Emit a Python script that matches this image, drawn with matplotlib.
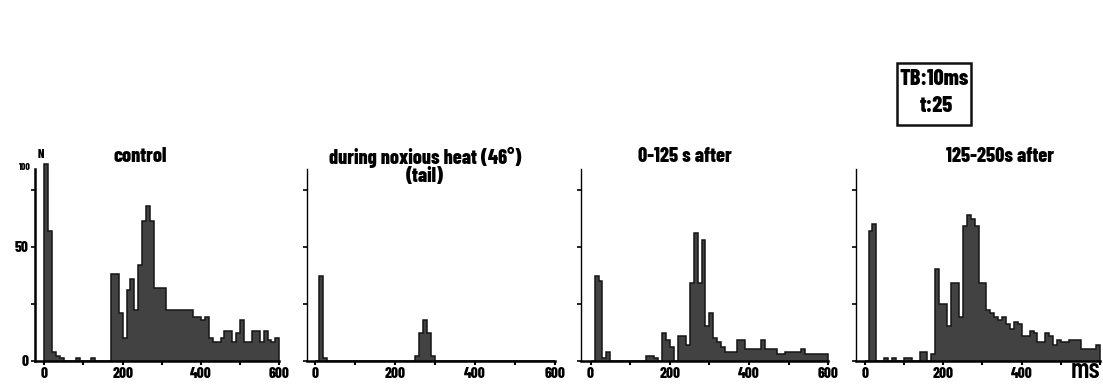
import matplotlib
matplotlib.use("Agg")
import matplotlib.pyplot as plt
from matplotlib.patches import Rectangle
from matplotlib import font_manager as fm

# ---------------- data (counts per 10 ms bin, 0-600 ms) ----------------
bin_edges = list(range(0, 610, 10))

control = [86, 57, 4, 2, 1, 0, 0, 0, 1, 0,
           0, 0, 1, 0, 0, 0, 0, 38, 38, 21,
           10, 31, 36, 22, 42, 61, 68, 61, 32, 32,
           32, 22, 22, 22, 22, 22, 22, 22, 19, 19,
           18, 19, 10, 8, 8, 10, 13, 13, 8, 12,
           18, 8, 8, 13, 13, 8, 13, 9, 8, 10]

heat = [0, 37, 1, 0, 0, 0, 0, 0, 0, 0,
        0, 0, 0, 0, 0, 0, 0, 0, 0, 0,
        0, 0, 0, 0, 0, 2, 12, 18, 12, 2,
        0, 0, 0, 0, 0, 0, 0, 0, 0, 0,
        0, 0, 0, 0, 0, 0, 0, 0, 0, 0,
        0, 0, 0, 0, 0, 0, 0, 0, 0, 0]

after_0_125 = [0, 37, 35, 1, 4, 0, 0, 0, 0, 0,
               0, 0, 0, 0, 2, 2, 1, 0, 12, 9,
               6, 0, 11, 11, 7, 34, 56, 34, 53, 15,
               21, 10, 8, 6, 4, 4, 4, 9, 9, 5,
               5, 5, 5, 9, 5, 5, 5, 3, 3, 4,
               4, 4, 4, 5, 3, 3, 3, 3, 3, 3]

after_125_250 = [0, 57, 60, 0, 0, 1, 0, 1, 0, 0,
                 1, 1, 0, 0, 4, 4, 0, 3, 40, 25,
                 25, 15, 34, 34, 19, 59, 64, 62, 59, 34,
                 34, 22, 21, 19, 18, 19, 16, 14, 17, 16,
                 11, 11, 13, 12, 8, 8, 12, 11, 7, 9,
                 8, 8, 9, 9, 9, 5, 5, 5, 5, 7]

titles = ["control", "during noxious heat (46\u00b0)", "0-125 s after", "125-250s after"]
subtitle = "(tail)"
series = [control, heat, after_0_125, after_125_250]
xtick_labels = ["0", "200", "400", "600"]
ytick_labels = ["0", "50", "100"]

# ---------------- fonts ----------------
names = {f.name for f in fm.fontManager.ttflist}
cand = ["Barlow Condensed", "Roboto Condensed", "Archivo Narrow", "Asap Condensed", "DejaVu Sans"]
main = next(c for c in cand if c in names)
FAM = [main, "DejaVu Sans"]
WT = 800 if main == "Barlow Condensed" else "bold"

W, H = 1103, 386
fig = plt.figure(figsize=(W / 100, H / 100), dpi=100)
fig.patch.set_facecolor("white")

# panel geometry in pixels: (left px of y-axis, x of 600 ms, xmin ms)
panels = [(34.5, 279.3, -25), (306.7, 555.0, -21), (580.7, 828.3, -25), (856.0, 1100.3, -22)]
y_bottom_px, y_top_px = 360.7, 169.0
ytop = 84

fill_c = "#424242"
for i, ((lpx, rpx, xmin), vals) in enumerate(zip(panels, series)):
    ax = fig.add_axes([lpx / W, 1 - y_bottom_px / H, (rpx - lpx) / W, (y_bottom_px - y_top_px) / H])
    ax.stairs(vals, bin_edges, fill=True, color=fill_c, linewidth=0, clip_on=False)
    ax.stairs(vals, bin_edges, color="#151515", linewidth=1.1, clip_on=False)
    ax.set_xlim(xmin, 600)
    ax.set_ylim(0, ytop)
    for s in ["top", "right"]:
        ax.spines[s].set_visible(False)
    ax.spines["bottom"].set_linewidth(1.8)
    ax.spines["left"].set_linewidth(1.8 if i == 0 else 1.0)
    ax.set_xticks([0, 100, 200, 300, 400, 500, 600])
    lab = list(xtick_labels)
    if i == 3:
        lab[-1] = ""
    ax.set_xticklabels([lab[0], "", lab[1], "", lab[2], "", lab[3]],
                       fontfamily=FAM, fontweight=WT, fontsize=11)
    ax.tick_params(axis="x", direction="out", length=3, width=1.5, pad=1.5)
    ax.set_yticks([0, 25, 50, 75])
    if i == 0:
        ax.set_yticklabels([ytick_labels[0], "", ytick_labels[1], ""],
                           fontfamily=FAM, fontweight=WT, fontsize=11)
    else:
        ax.set_yticklabels([])
    ax.tick_params(axis="y", direction="out", length=3, width=1.2, pad=1)
    ax.set_facecolor("none")

# titles
tkw = dict(ha="center", va="center", fontfamily=FAM, fontweight=WT, fontsize=14.5)
fig.text(140 / W, 1 - 157 / H, titles[0], **tkw)
fig.text(425 / W, 1 - 157 / H, titles[1], **tkw)
fig.text(425 / W, 1 - 176 / H, subtitle, **tkw)
fig.text(685 / W, 1 - 157 / H, titles[2], **tkw)
fig.text(1000 / W, 1 - 157 / H, titles[3], **tkw)

# axis annotations
fig.text(41 / W, 1 - 154 / H, "N", ha="center", va="center",
         fontfamily=FAM, fontweight=WT, fontsize=9)
fig.text(31 / W, 1 - 167 / H, ytick_labels[2], ha="right", va="center",
         fontfamily=FAM, fontweight=WT, fontsize=7)
fig.text(1086 / W, 1 - 371 / H, "ms", ha="center", va="center",
         fontfamily=FAM, fontweight=600, fontsize=20)

# TB box
fig.patches.append(Rectangle((897 / W, 1 - 125 / H), 74 / W, 62 / H,
                             transform=fig.transFigure, fill=False,
                             edgecolor="#111111", linewidth=1.8))
fig.text(934 / W, 1 - 79 / H, "TB:10ms", ha="center", va="center",
         fontfamily=FAM, fontweight=WT, fontsize=16)
fig.text(936 / W, 1 - 106 / H, "t:25", ha="center", va="center",
         fontfamily=FAM, fontweight=WT, fontsize=16)

fig.savefig("out.png", dpi=100, facecolor="white")
